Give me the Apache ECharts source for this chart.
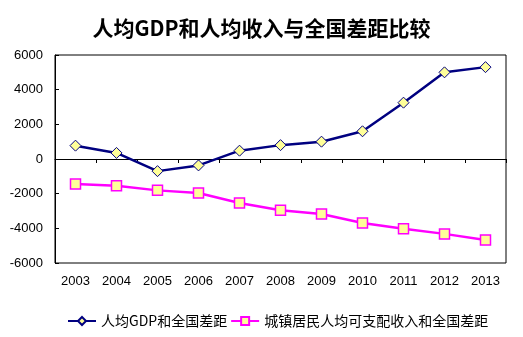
<!DOCTYPE html>
<html>
<head>
<meta charset="utf-8">
<script src="https://cdn.jsdelivr.net/npm/echarts@6/dist/echarts.min.js"></script>
<style>
html,body{margin:0;padding:0;background:#fff;}
#chart{width:523px;height:337px;}
</style>
</head>
<body>
<div id="chart"></div>
<script>
// Years on the category axis
const years = ['2003','2004','2005','2006','2007','2008','2009','2010','2011','2012','2013'];
// Gap between per-capita GDP and the national level
const gdpGap = [770, 350, -700, -370, 480, 800, 1000, 1600, 3250, 5000, 5300];
// Gap between urban per-capita disposable income and the national level
const incomeGap = [-1440, -1540, -1810, -1960, -2540, -2960, -3170, -3690, -4030, -4320, -4670];
const seriesNames = ['人均GDP和全国差距', '城镇居民人均可支配收入和全国差距'];
const titleText = '人均GDP和人均收入与全国差距比较';

const chart = echarts.init(document.getElementById('chart'));
const cjk = '"Noto Sans CJK SC", "Liberation Sans", sans-serif';
chart.setOption({
  animation: false,
  backgroundColor: '#ffffff',
  title: {
    text: titleText,
    left: 'center',
    top: 13,
    textStyle: { fontFamily: cjk, fontSize: 21, fontWeight: 'bold', color: '#000' }
  },
  grid: {
    left: 55, right: 17, top: 55, bottom: 74,
    show: true, borderColor: '#000', borderWidth: 1, backgroundColor: 'transparent'
  },
  legend: {
    bottom: 4,
    left: 62,
    itemWidth: 28,
    itemHeight: 10,
    itemGap: 3,
    textStyle: { fontFamily: cjk, fontSize: 14, color: '#000' },
    data: seriesNames
  },
  xAxis: [
    {
      type: 'category',
      data: years,
      position: 'bottom',
      boundaryGap: true,
      axisLine: { show: false, onZero: false },
      axisTick: { show: false },
      axisLabel: { fontFamily: '"Liberation Sans", Arial, sans-serif', fontSize: 13, color: '#000', margin: 12 },
      splitLine: { show: false }
    },
    {
      type: 'category',
      data: years,
      boundaryGap: true,
      axisLine: { show: true, onZero: true, lineStyle: { color: '#000', width: 1 } },
      axisTick: { show: true, inside: true, length: 4, lineStyle: { color: '#000' } },
      axisLabel: { show: false },
      splitLine: { show: false }
    }
  ],
  yAxis: {
    type: 'value',
    min: -6000,
    max: 6000,
    interval: 2000,
    axisLine: { show: true, lineStyle: { color: '#000' } },
    axisTick: { show: true, inside: true, length: 4, lineStyle: { color: '#000' } },
    axisLabel: {
      fontFamily: '"Liberation Sans", Arial, sans-serif', fontSize: 13, color: '#000', margin: 12,
      formatter: v => String(v)
    },
    splitLine: { show: false }
  },
  series: [
    {
      name: seriesNames[0],
      type: 'line',
      xAxisIndex: 0,
      data: gdpGap,
      symbol: 'diamond',
      symbolSize: 11,
      lineStyle: { color: '#000080', width: 2.5 },
      itemStyle: { color: '#FFFF99', borderColor: '#000080', borderWidth: 1 }
    },
    {
      name: seriesNames[1],
      type: 'line',
      xAxisIndex: 0,
      data: incomeGap,
      symbol: 'rect',
      symbolSize: 10,
      lineStyle: { color: '#FF00FF', width: 2.5 },
      itemStyle: { color: '#FFFF99', borderColor: '#FF00FF', borderWidth: 1.5 }
    }
  ]
});
</script>
</body>
</html>
